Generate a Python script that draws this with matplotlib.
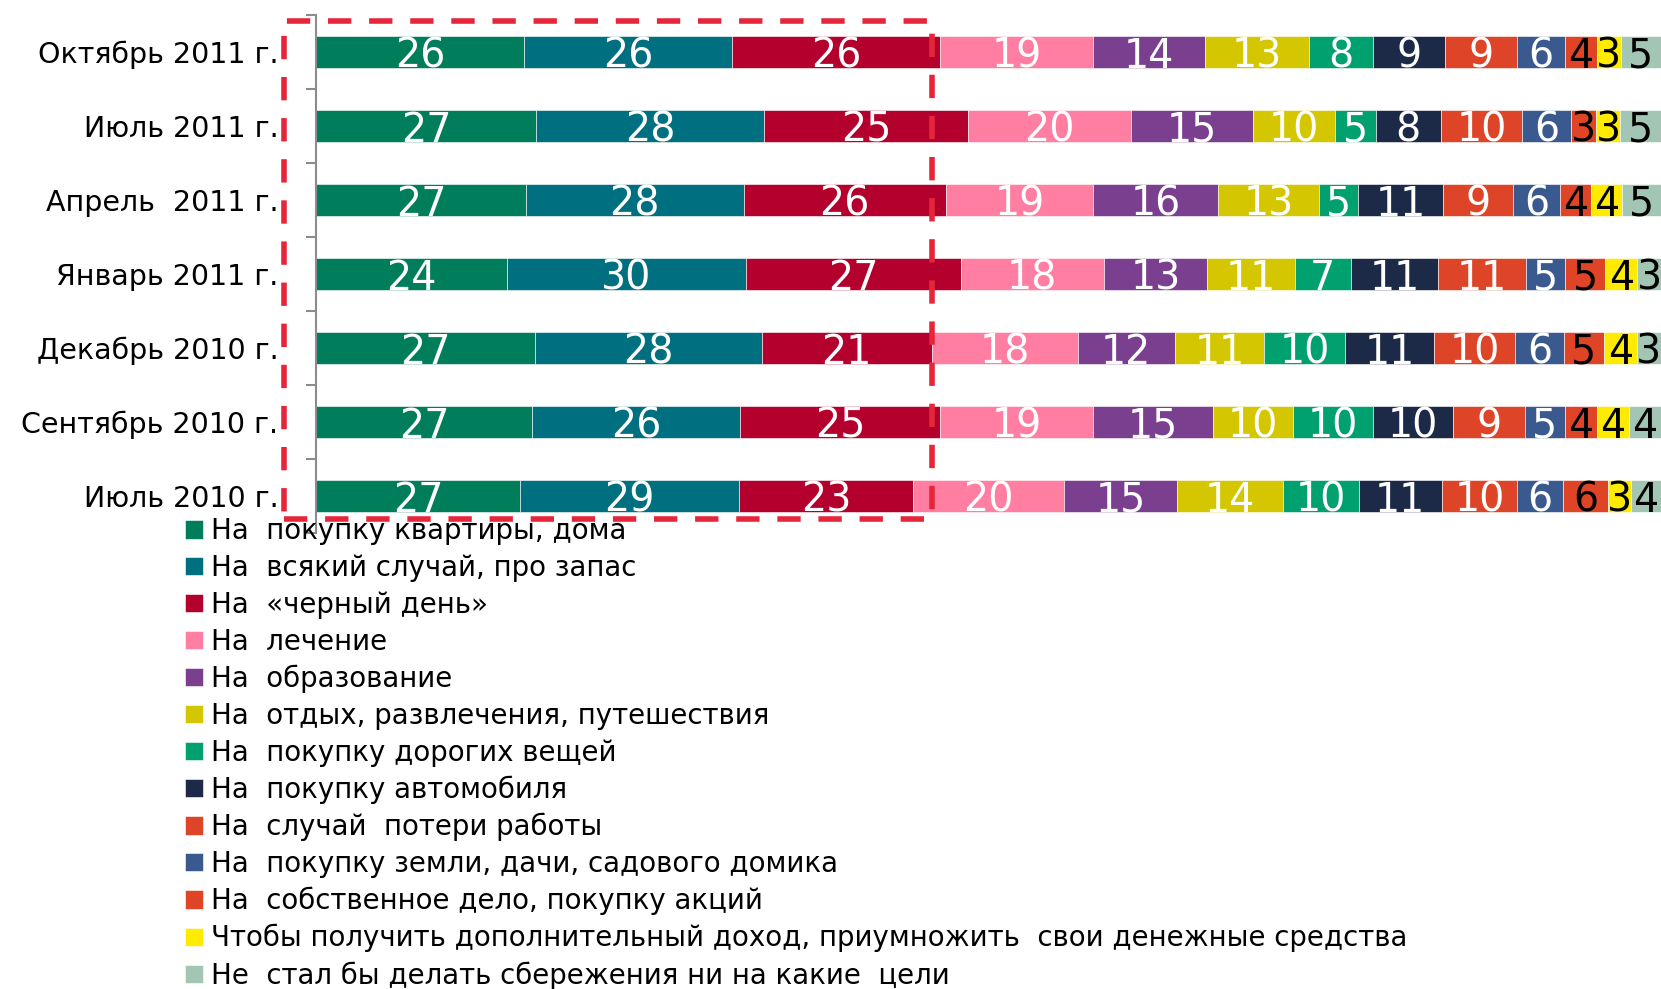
import matplotlib
matplotlib.use('Agg')  # no display here
import matplotlib.pyplot as plt
import numpy as np
from matplotlib.patches import Rectangle

plt.rcParams['font.family'] = ['DejaVu Sans']

periods = ["Октябрь 2011 г.", "Июль 2011 г.", "Апрель  2011 г.", "Январь 2011 г.",
           "Декабрь 2010 г.", "Сентябрь 2010 г.", "Июль 2010 г."]

goals = [
  "На  покупку квартиры, дома",
  "На  всякий случай, про запас",
  "На  «черный день»",
  "На  лечение",
  "На  образование",
  "На  отдых, развлечения, путешествия",
  "На  покупку дорогих вещей",
  "На  покупку автомобиля",
  "На  случай  потери работы",
  "На  покупку земли, дачи, садового домика",
  "На  собственное дело, покупку акций",
  "Чтобы получить дополнительный доход, приумножить  свои денежные средства",
  "Не  стал бы делать сбережения ни на какие  цели",
]

# one list per goal, periods top to bottom
flat = [26, 27, 27, 24, 27, 27, 27]
reserve = [26, 28, 28, 30, 28, 26, 29]
rainy_day = [26, 25, 26, 27, 21, 25, 23]
health = [19, 20, 19, 18, 18, 19, 20]
education = [14, 15, 16, 13, 12, 15, 15]
leisure = [13, 10, 13, 11, 11, 10, 14]
expensive = [8, 5, 5, 7, 10, 10, 10]
car = [9, 8, 11, 11, 11, 10, 11]
job_loss = [9, 10, 9, 11, 10, 9, 10]
land = [6, 6, 6, 5, 6, 5, 6]
business = [4, 3, 4, 5, 5, 4, 6]
income = [3, 3, 4, 4, 4, 4, 3]
no_savings = [5, 5, 5, 3, 3, 4, 4]

series = [flat, reserve, rainy_day, health, education, leisure, expensive,
          car, job_loss, land, business, income, no_savings]

colors = ["#007E5C", "#007080", "#B3002D", "#FF7EA1", "#7B3F8F", "#D4C600",
          "#00A06F", "#1C2A48", "#DE4428", "#3A5A8F", "#E04426", "#FFEB00", "#A3C6B4"]
text_colors = ["white"] * 10 + ["black"] * 3

W, H = 1661, 989
fig = plt.figure(figsize=(W / 100, H / 100), dpi=100)
ax = fig.add_axes([316 / W, 1 - 533 / H, 1345 / W, 518 / H])

data = np.array(series, dtype=float)
shares = data / data.sum(axis=0) * 100  # 100% stacked
y = np.arange(len(periods))
left = np.zeros(len(periods))
for i in range(len(series)):
  bars = ax.barh(y, shares[i], left=left, height=0.42, color=colors[i],
                 edgecolor="white", linewidth=0.4, label=goals[i])
  texts = ax.bar_label(bars, labels=[str(v) for v in series[i]], label_type="center",
                       color=text_colors[i], fontsize=28.5)
  for t in texts:
    t.set_va("center_baseline")
  left += shares[i]

ax.set_xlim(0, 100)
ax.set_ylim(len(periods) - 0.5, -0.5)
ax.set_yticks(y)
ax.set_yticklabels(periods, fontsize=20.5)
ax.set_yticks(np.arange(-0.5, len(periods)), minor=True)
ax.tick_params(axis="y", which="major", length=0, pad=27)
ax.tick_params(axis="y", which="minor", length=7, width=1.5, color="#8C8C8C")
ax.xaxis.set_visible(False)
for s in ["top", "right", "bottom"]:
  ax.spines[s].set_visible(False)
ax.spines["left"].set_color("#8C8C8C")
ax.spines["left"].set_linewidth(1.5)

fig.legend(loc="upper left", bbox_to_anchor=(185 / W, 1 - 517 / H), frameon=False,
           fontsize=19.9, handlelength=0.65, handleheight=0.65, handletextpad=0.3,
           labelspacing=0.32, borderaxespad=0, borderpad=0)

# dashed highlight box
fig.add_artist(Rectangle((284 / W, 1 - 519 / H), (932 - 284) / W, (519 - 21) / H,
                         transform=fig.transFigure, fill=False, edgecolor="#E5263A",
                         linewidth=4, linestyle=(0, (4.2, 3.2)), zorder=5))

fig.savefig("out.png", dpi=100)
